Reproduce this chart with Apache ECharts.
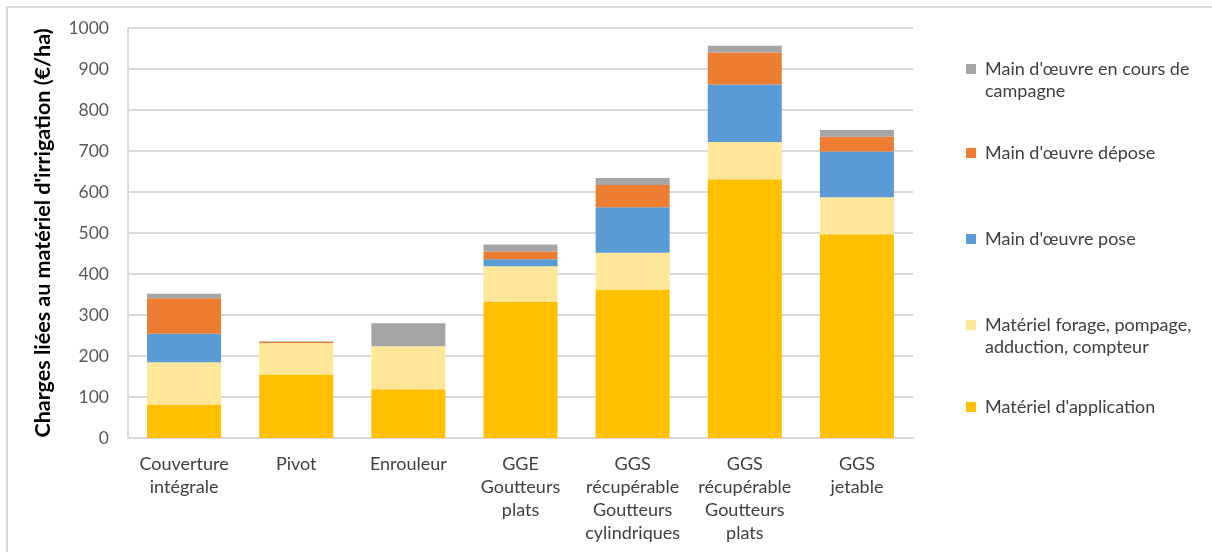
<!DOCTYPE html>
<html>
<head>
<meta charset="utf-8">
<style>
  html, body { margin: 0; padding: 0; background: #fff; }
  #frame {
    position: absolute; left: 6px; top: 6px; right: 0; bottom: 0;
    border-left: 2px solid #d9d9d9; border-top: 2px solid #d9d9d9;
  }
  #chart { width: 1212px; height: 552px; position: relative; }
</style>
<script src="https://cdn.jsdelivr.net/npm/echarts@6/dist/echarts.min.js"></script>
</head>
<body>
<div id="frame"></div>
<div id="chart"></div>
<script>
// catégories (axe x)
const categories = [
  'Couverture\nintégrale',
  'Pivot',
  'Enrouleur',
  'GGE\nGoutteurs\nplats',
  'GGS\nrécupérable\nGoutteurs\ncylindriques',
  'GGS\nrécupérable\nGoutteurs\nplats',
  'GGS\njetable'
];
const yTicks = [0, 100, 200, 300, 400, 500, 600, 700, 800, 900, 1000];

// valeurs (€/ha)
const materielApplication = [82, 155, 119, 332, 362, 631, 497];
const materielForage      = [103, 77, 105, 87, 90, 91, 90];
const moPose              = [69, 0, 0, 17, 111, 140, 112];
const moDepose            = [87, 3, 0, 19, 54, 78, 36];
const moCampagne          = [11, 1, 56, 17, 17, 17, 16];

const seriesNames = [
  "Matériel d'application",
  'Matériel forage, pompage,\nadduction, compteur',
  "Main d'œuvre pose",
  "Main d'œuvre dépose",
  "Main d'œuvre en cours de\ncampagne"
];
const seriesColors = ['#ffc000', '#ffe699', '#5b9bd5', '#ed7d31', '#a5a5a5'];
const seriesData = [materielApplication, materielForage, moPose, moDepose, moCampagne];

const FONT = 'Lato';
const LH = 22;
// centre de la première ligne de chaque entrée de légende
const legendCenters = [407, 325, 239, 153, 69];

let chart = echarts.init(document.getElementById('chart'));

let legends = seriesNames.map(function (name, i) {
  let twoLines = name.indexOf('\n') >= 0;
  return {
    data: [name],
    orient: 'vertical',
    left: 966,
    top: twoLines ? legendCenters[i] - LH * 1.5 : legendCenters[i] - LH / 2,
    padding: 0,
    icon: 'rect',
    itemWidth: 10,
    itemHeight: 10,
    selectedMode: false,
    // ligne vide en tête : l'icône s'aligne sur la première ligne
    formatter: function (n) { return twoLines ? '\n' + n : n; },
    textStyle: {
      fontFamily: FONT,
      fontSize: 18,
      color: '#404040',
      lineHeight: LH,
      padding: [0, 0, 0, 4]
    }
  };
});

let option = {
  animation: false,
  backgroundColor: 'transparent',
  legend: legends,
  grid: {
    left: 128,
    right: 299,
    top: 28,
    bottom: 114,
    containLabel: false
  },
  xAxis: {
    type: 'category',
    data: categories,
    axisTick: { show: false },
    axisLine: { lineStyle: { color: '#d9d9d9', width: 2 } },
    axisLabel: {
      interval: 0,
      margin: 15,
      fontFamily: FONT,
      fontSize: 18,
      lineHeight: 23,
      color: '#404040',
      verticalAlign: 'top'
    }
  },
  yAxis: {
    type: 'value',
    min: 0,
    max: 1000,
    interval: 100,
    name: "Charges liées au matériel d'irrigation (€/ha)",
    nameLocation: 'middle',
    nameGap: 74,
    nameTextStyle: {
      fontFamily: FONT,
      fontSize: 21.5,
      fontWeight: 'bold',
      color: '#000'
    },
    axisLine: { show: true, lineStyle: { color: '#d9d9d9', width: 2 } },
    axisTick: { show: false },
    splitLine: { lineStyle: { color: '#d9d9d9', width: 2 } },
    axisLabel: {
      margin: 19,
      fontFamily: FONT,
      fontSize: 17.5,
      color: '#595959',
      formatter: function (v) { return yTicks.indexOf(v) >= 0 ? String(v) : ''; }
    }
  },
  series: seriesData.map(function (d, i) {
    return {
      name: seriesNames[i],
      type: 'bar',
      stack: 'total',
      data: d,
      barWidth: '66%',
      itemStyle: { color: seriesColors[i] }
    };
  })
};

chart.setOption(option);
</script>
</body>
</html>
